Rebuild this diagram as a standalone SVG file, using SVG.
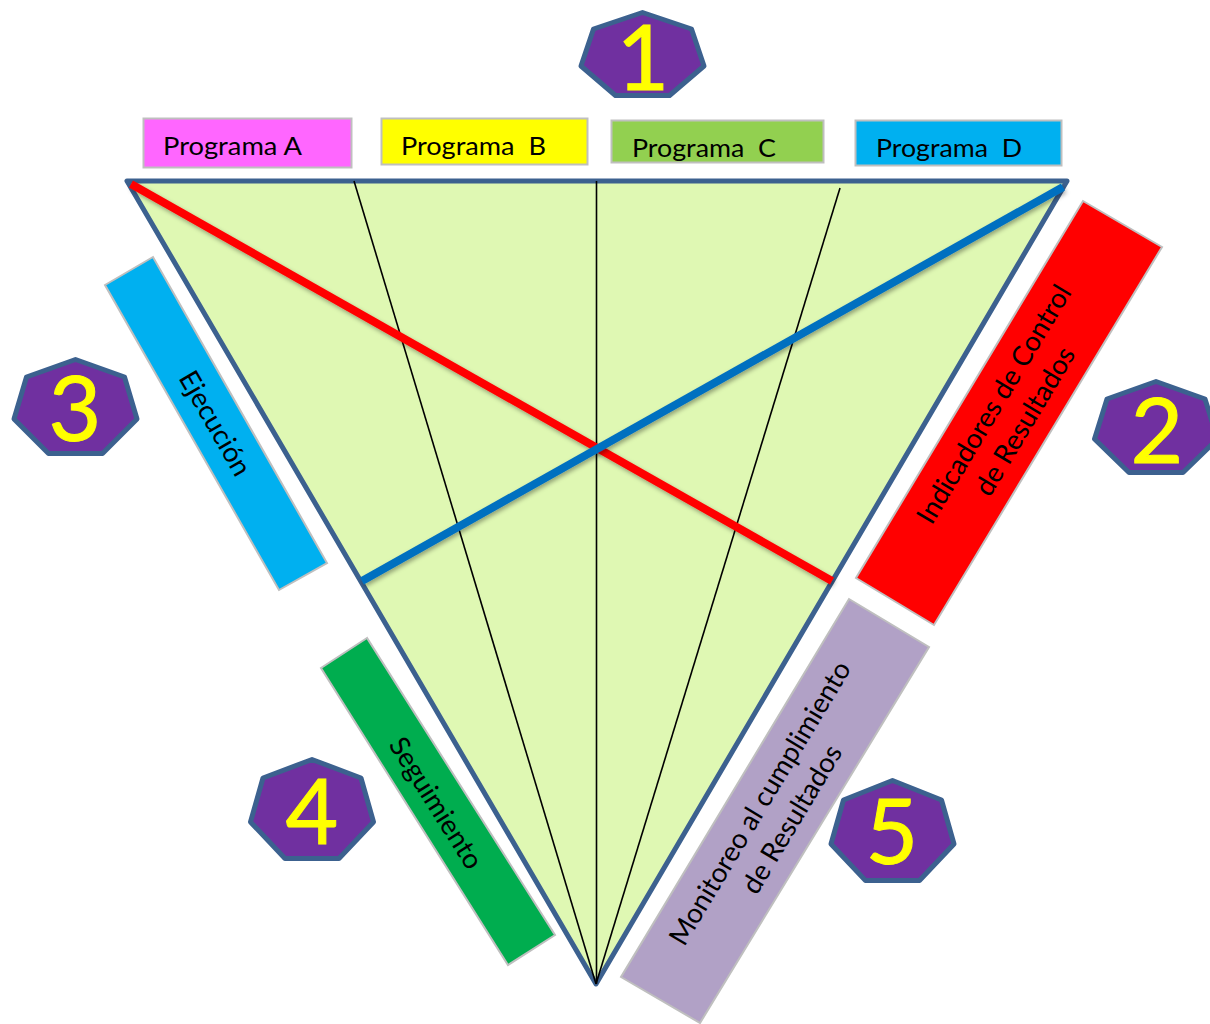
<svg xmlns="http://www.w3.org/2000/svg" width="1210" height="1024" viewBox="0 0 1210 1024">
<style>
text{font-family:Lato,"Open Sans","Liberation Sans",sans-serif;fill:#000}
.lab{font-size:25px}
.r{font-size:27.5px;text-anchor:middle}
.num{font-size:91px;fill:#ff0;stroke:#ff0;stroke-width:1;text-anchor:middle}
.box{stroke:#bfbfbf;stroke-width:2}
.hep{fill:#7030a0;stroke:#3c618f;stroke-width:5;stroke-linejoin:round}
.thin{stroke:#000;stroke-width:1.6;fill:none}
.thick{stroke-width:8;fill:none}
</style>
<defs><filter id="sh" x="-10%" y="-10%" width="120%" height="120%"><feDropShadow dx="1.5" dy="2.5" stdDeviation="2" flood-color="#000" flood-opacity="0.35"/></filter></defs>
<g id="triangle"><polygon points="127,181 1067,181 596,984" fill="#dff8b3" stroke="#3c618f" stroke-width="5" stroke-linejoin="round"/></g>
<g id="connectors">
<line class="thin" x1="354" y1="181" x2="596" y2="984"/>
<line class="thin" x1="596.5" y1="181" x2="596.5" y2="984"/>
<line class="thin" x1="840" y1="188" x2="596" y2="984"/>
<line class="thick" stroke="#f00" filter="url(#sh)" x1="131" y1="184" x2="832" y2="581"/>
<line class="thick" stroke="#0070c0" filter="url(#sh)" x1="1063" y1="187" x2="362" y2="581"/>
</g>
<g id="programa-a"><rect class="box" x="143.500" y="118.500" width="208" height="49" fill="#f6f"/><text class="lab" x="163" y="155" textLength="139" lengthAdjust="spacingAndGlyphs">Programa A</text></g>
<g id="programa-b"><rect class="box" x="381.500" y="118.500" width="206" height="46" fill="#ff0"/><text class="lab" x="401" y="155" xml:space="preserve" textLength="145" lengthAdjust="spacingAndGlyphs">Programa  B</text></g>
<g id="programa-c"><rect class="box" x="611.500" y="120.500" width="212" height="42" fill="#92d050"/><text class="lab" x="632" y="157" xml:space="preserve" textLength="144" lengthAdjust="spacingAndGlyphs">Programa  C</text></g>
<g id="programa-d"><rect class="box" x="855.500" y="120.500" width="206" height="45" fill="#00b0f0"/><text class="lab" x="876" y="157" xml:space="preserve" textLength="146" lengthAdjust="spacingAndGlyphs">Programa  D</text></g>
<g id="indicadores"><polygon class="box" points="1083,201 1162,247 934,625 856,578" fill="#f00"/>
<text class="r" transform="translate(1002 409) rotate(-59)">Indicadores de Control</text>
<text class="r" transform="translate(1033 426) rotate(-59)">de Resultados</text></g>
<g id="ejecucion"><polygon class="box" points="153,257 105,285 279,590 327,563" fill="#00b0f0"/>
<text class="r" transform="translate(207 428) rotate(60)">Ejecución</text></g>
<g id="seguimiento"><polygon class="box" points="367,638 321,668 508,965 555,935" fill="#00ad4f"/>
<text class="r" transform="translate(428 808) rotate(57.700)">Seguimiento</text></g>
<g id="monitoreo"><polygon class="box" points="849,599 929,647 700,1023 621,977" fill="#b1a1c6"/>
<text class="r" transform="translate(768 808) rotate(-59)">Monitoreo al cumplimiento</text>
<text class="r" transform="translate(800 824) rotate(-59)">de Resultados</text></g>
<g id="n1"><polygon class="hep" points="642.500,12.500 691.500,29 704,66 669.500,95.500 615.500,95.500 581,66 593.500,29"/><text class="num" x="643" y="90">1</text></g>
<g id="n2"><polygon class="hep" points="1156,381.500 1205,399 1217.500,439 1183,472.500 1129,472.500 1094.500,439 1107,399"/><text class="num" x="1157" y="463">2</text></g>
<g id="n3"><polygon class="hep" points="75.500,359.500 124.500,377 137,419 102.500,453.500 48.500,453.500 14,419 26.500,377"/><text class="num" x="75" y="441">3</text></g>
<g id="n4"><polygon class="hep" points="312,759.500 361,778 373.500,822 339,858.500 285,858.500 250.500,822 263,778"/><text class="num" x="312" y="844">4</text></g>
<g id="n5"><polygon class="hep" points="892.500,780.500 941.500,800 954,844 919.500,880.500 865.500,880.500 831,844 843.500,800"/><text class="num" x="892" y="864">5</text></g>
</svg>
